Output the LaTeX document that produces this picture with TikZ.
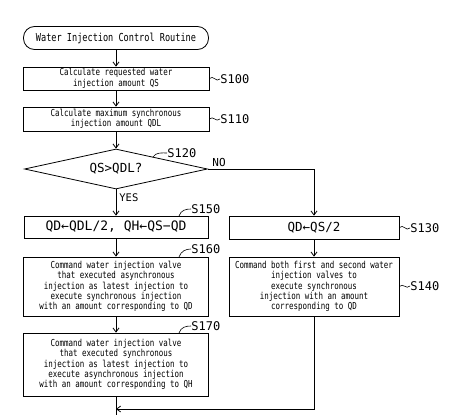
\documentclass[tikz,border=0pt]{standalone}
\usepackage{fontspec}
\newfontfamily\monof{DejaVu Sans Mono}
\newfontfamily\narrowf[FakeStretch=0.78]{DejaVu Sans Mono}
\usetikzlibrary{shapes.geometric,arrows.meta}
\begin{document}
\begin{tikzpicture}[x=1pt,y=-1pt,
  line width=0.8pt,
  box/.style={draw,rectangle,inner sep=1pt,align=center,font={\narrowf\fontsize{9.6}{10.4}\selectfont}},
  bigtxt/.style={font={\monof\fontsize{12.5}{14}\selectfont}},
  lbl/.style={font={\monof\fontsize{12}{14}\selectfont},anchor=west,inner sep=0pt},
  arr/.style={-{Straight Barb[length=4pt,width=6pt]}},
  wave/.style={line width=0.6pt}
]
\useasboundingbox (0,0) rectangle (450,415);
% nodes
\node[draw,rounded corners=11pt,minimum width=185pt,minimum height=23pt,inner sep=0pt,
  font={\narrowf\fontsize{11}{13}\selectfont}] (start) at (116,38) {Water Injection Control Routine};
\node[box,minimum width=186pt,minimum height=23pt] (s100) at (116,78.5) {Calculate requested water\\injection amount QS};
\node[box,minimum width=186pt,minimum height=24pt] (s110) at (116,119) {Calculate maximum synchronous\\injection amount QDL};
\node[draw,diamond,aspect=4.5,inner sep=0pt,minimum width=183pt,minimum height=40pt,bigtxt] (dec) at (116,169) {QS>QDL?};
\node[draw,rectangle,minimum width=184pt,minimum height=22pt,inner sep=0pt,font={\monof\fontsize{13}{15}\selectfont}] (s150) at (116,227) {QD←QDL/2, QH←QS−QD};
\node[draw,rectangle,minimum width=170pt,minimum height=23pt,inner sep=0pt,bigtxt] (s130) at (314,227.5) {QD←QS/2};
\node[box,minimum width=185pt,minimum height=59pt] (s160) at (116,286.5) {Command water injection valve\\that executed asynchronous\\injection as latest injection to\\execute synchronous injection\\with an amount corresponding to QD};
\node[box,minimum width=170pt,minimum height=59pt] (s140) at (314,286.5) {Command both first and second water\\injection valves to\\execute synchronous\\injection with an amount\\corresponding to QD};
\node[box,minimum width=185pt,minimum height=63pt] (s170) at (116,364.5) {Command water injection valve\\that executed synchronous\\injection as latest injection to\\execute asynchronous injection\\with an amount corresponding to QH};
\coordinate (m) at (116,409);
\coordinate (bot) at (116,415);
% step labels
\node[lbl] (l100) at (220,79) {S100};
\node[lbl] (l110) at (220,119) {S110};
\node[lbl] (l120) at (167,153) {S120};
\node[lbl] (l150) at (191,209) {S150};
\node[lbl] (l160) at (191,249) {S160};
\node[lbl] (l170) at (191,326) {S170};
\node[lbl] (l130) at (410,228) {S130};
\node[lbl] (l140) at (410,286) {S140};
\coordinate (w120) at (153,157);
\coordinate (w150) at (179,216);
\coordinate (w160) at (179,257);
\coordinate (w170) at (179,333);
\draw[wave] (s100.east) .. controls +(4,-4) and +(-4,4) .. (l100.west);
\draw[wave] (s110.east) .. controls +(4,-4) and +(-4,4) .. (l110.west);
\draw[wave] (s130.east) .. controls +(4,-4) and +(-4,4) .. (l130.west);
\draw[wave] (s140.east) .. controls +(4,-4) and +(-4,4) .. (l140.west);
\draw[wave] (w120) .. controls +(3,-5) and +(-5,0) .. (l120.west);
\draw[wave] (w150) .. controls +(2,-6) and +(-5,0) .. (l150.west);
\draw[wave] (w160) .. controls +(2,-6) and +(-5,0) .. (l160.west);
\draw[wave] (w170) .. controls +(2,-6) and +(-5,0) .. (l170.west);
% connectors
\draw[arr] (start) -- (s100);
\draw[arr] (s100) -- (s110);
\draw[arr] (s110) -- (dec);
\draw[arr] (dec) -- node[pos=0.3,anchor=west,inner sep=3pt,font={\monof\fontsize{10.5}{12}\selectfont}] (yes) {YES} (s150);
\draw[arr] (dec.east) -| (s130.north);
\node[font={\monof\fontsize{11}{12}\selectfont},inner sep=0pt] (no) at (219,162) {NO};
\draw[arr] (s150) -- (s160);
\draw[arr] (s160) -- (s170);
\draw[arr] (s130) -- (s140);
\draw[arr] (s140.south) |- (m);
\draw (s170.south) -- (bot);
\end{tikzpicture}
\end{document}
